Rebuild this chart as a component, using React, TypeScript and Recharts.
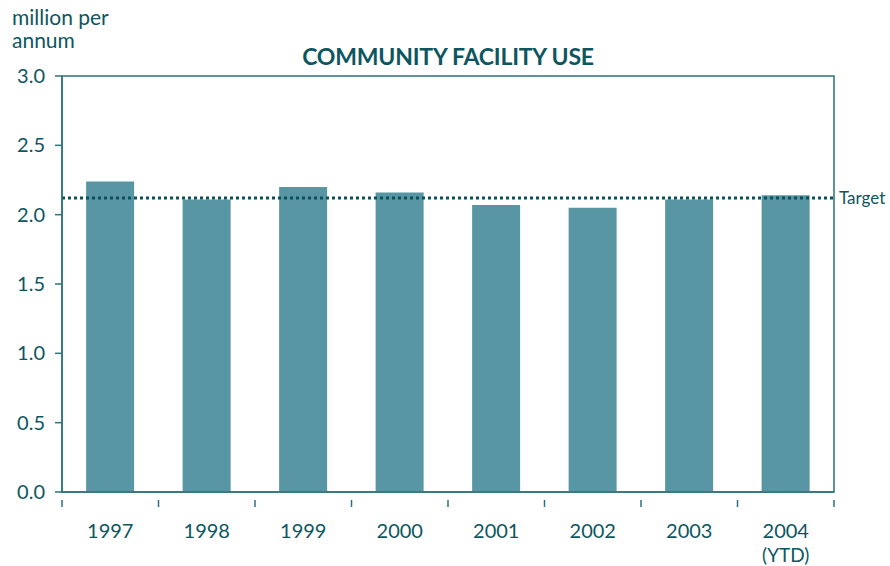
import React from "react";
import {
  Bar,
  BarChart,
  ReferenceArea,
  ReferenceLine,
  XAxis,
  YAxis,
} from "recharts";

// valores (milhões por ano)
const years = ["1997", "1998", "1999", "2000", "2001", "2002", "2003", "2004"];
const yearNotes = ["", "", "", "", "", "", "", "(YTD)"];
const usage = [2.24, 2.11, 2.2, 2.16, 2.07, 2.05, 2.11, 2.14];
const target = 2.12;
const yTicks = [0, 0.5, 1.0, 1.5, 2.0, 2.5, 3.0];

const data = years.map((y, i) => ({ year: y, note: yearNotes[i], value: usage[i] }));

const TEXT = "#0d5660";
const AXIS = "#2b7379";
const BAR = "#5796a2";
const FONT = "Lato, 'Open Sans', sans-serif";

function YearTick(props: any) {
  const { x, y, payload, index } = props;
  const half = payload?.offset ?? 48;
  const note = yearNotes[index];
  return (
    <g>
      <line x1={x - half} y1={y} x2={x - half} y2={y + 7} stroke={AXIS} strokeWidth={1.5} />
      {index === years.length - 1 && (
        <line x1={x + half} y1={y} x2={x + half} y2={y + 7} stroke={AXIS} strokeWidth={1.5} />
      )}
      <text x={x} y={y + 38} textAnchor="middle" fill={TEXT} fontSize={20} fontFamily={FONT}>
        {payload.value}
      </text>
      {note && (
        <text x={x} y={y + 62} textAnchor="middle" fill={TEXT} fontSize={19} fontFamily={FONT}>
          {note}
        </text>
      )}
    </g>
  );
}

export default function App() {
  const labelStyle: React.CSSProperties = {
    position: "absolute",
    left: 12,
    color: TEXT,
    fontSize: 21,
    lineHeight: "21px",
    whiteSpace: "nowrap",
  };
  return (
    <div style={{ position: "absolute", left: 0, top: 0, width: 890, height: 566, background: "#fff", fontFamily: FONT }}>
      <div style={{ ...labelStyle, top: 6 }}>million per</div>
      <div style={{ ...labelStyle, top: 29 }}>annum</div>
      <div
        style={{
          position: "absolute",
          left: 0,
          width: 896,
          top: 42,
          textAlign: "center",
          color: TEXT,
          fontSize: 23,
          fontWeight: 700,
          letterSpacing: -0.2,
        }}
      >
        COMMUNITY FACILITY USE
      </div>
      <BarChart
        width={890}
        height={566}
        data={data}
        margin={{ top: 76, right: 56, bottom: 14, left: 0 }}
        barCategoryGap="25%"
      >
        <ReferenceArea y1={0} y2={3} fill="none" stroke={AXIS} strokeWidth={1.5} ifOverflow="visible" />
        <XAxis
          dataKey="year"
          height={60}
          interval={0}
          axisLine={{ stroke: AXIS, strokeWidth: 1.5 }}
          tickLine={false}
          tick={<YearTick />}
        />
        <YAxis
          width={62}
          domain={[0, 3]}
          ticks={yTicks}
          tickFormatter={(v: number) => v.toFixed(1)}
          axisLine={{ stroke: AXIS, strokeWidth: 1.5 }}
          tickLine={{ stroke: AXIS, strokeWidth: 1.5 }}
          tickSize={7}
          tickMargin={10}
          tick={{ fill: TEXT, fontSize: 20, fontFamily: FONT }}
        />
        <Bar dataKey="value" fill={BAR} isAnimationActive={false} />
        <ReferenceLine
          y={target}
          stroke="#0b4f58"
          strokeWidth={3}
          strokeDasharray="3 3"
          label={{ value: "Target", position: "right", fill: TEXT, fontSize: 17, fontFamily: FONT, offset: 5 }}
        />
      </BarChart>
    </div>
  );
}
